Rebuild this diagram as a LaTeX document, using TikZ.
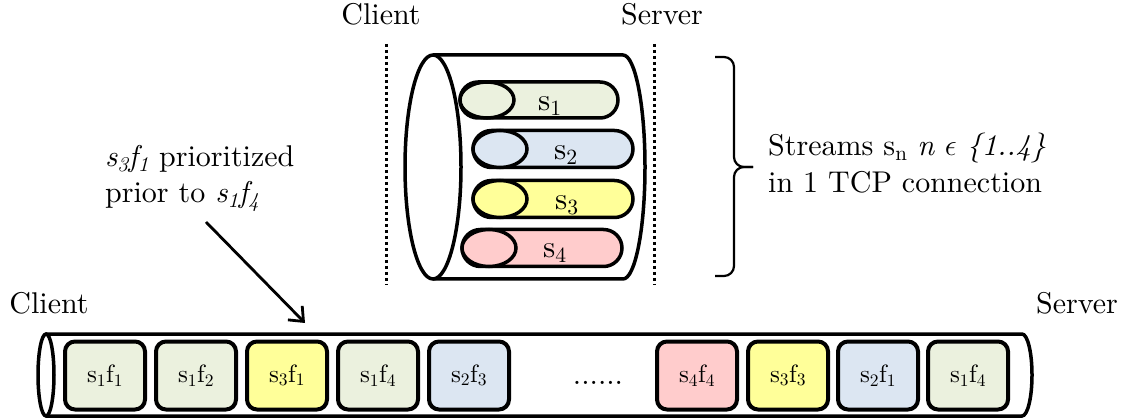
\RequirePackage{fix-cm}
\documentclass[tikz,border=0pt]{standalone}
\usepackage{fontspec}
\setmainfont{lmroman10-regular.otf}[ItalicFont=lmroman10-italic.otf, BoldFont=lmroman10-bold.otf, BoldItalicFont=lmroman10-bolditalic.otf]
\usetikzlibrary{shapes.misc,calc,arrows.meta}
\definecolor{cA}{HTML}{EBF1DE}
\definecolor{cB}{HTML}{DCE6F2}
\definecolor{cC}{HTML}{FFFF99}
\definecolor{cD}{HTML}{FFCCCC}
\tikzset{
  big/.style={font=\fontsize{30}{37}\selectfont, inner sep=0pt},
  slab/.style={font=\fontsize{31}{37}\selectfont, inner sep=0pt, anchor=base west},
  pill/.style={draw, rounded rectangle, line width=3.5pt, outer sep=0pt, inner sep=0pt, minimum width=160pt, minimum height=37pt},
  outl/.style={draw, line width=3.5pt},
  frm/.style={draw, line width=4pt, rounded corners=10pt, minimum width=80pt, minimum height=68pt, inner sep=0pt, font=\fontsize{25}{30}\selectfont},
  sep/.style={line width=3pt, dash pattern=on 3pt off 3pt},
}
\begin{document}
\begin{tikzpicture}[x=1pt,y=-1pt]
\useasboundingbox (0,0) rectangle (1126,419);
% top labels
\node[big, anchor=base] (tc) at (381,25) {Client};
\node[big, anchor=base] (ts) at (662,25) {Server};
\coordinate (d1a) at (386,44); \coordinate (d1b) at (386,285);
\coordinate (d2a) at (654,44); \coordinate (d2b) at (654,285);
\draw[sep] (d1a) -- (d1b);
\draw[sep] (d2a) -- (d2b);
% cylinder
\draw[outl, fill=white] (433,55) -- (623,55) arc[start angle=90, end angle=-90, x radius=22pt, y radius=112pt] -- (433,279);
\draw[outl, fill=white] (433,167) ellipse [x radius=28pt, y radius=112pt];
% streams
\node[pill, fill=cA, minimum width=158pt, minimum height=36pt] (p1) at (539,100) {};
\draw[outl, fill=cA] ($(p1.west)+(27,0)$) ellipse [x radius=27pt, y radius=18pt];
\node[pill, fill=cB] (p2) at (553,149) {};
\draw[outl, fill=cB] ($(p2.west)+(27,0)$) ellipse [x radius=27pt, y radius=18.5pt];
\node[pill, fill=cC] (p3) at (553,199) {};
\draw[outl, fill=cC] ($(p3.west)+(27,0)$) ellipse [x radius=27pt, y radius=18.5pt];
\node[pill, fill=cD] (p4) at (542,248) {};
\draw[outl, fill=cD] ($(p4.west)+(27,0)$) ellipse [x radius=27pt, y radius=18.5pt];
\node[slab] (l1) at (538,111) {s\textsubscript{1}};
\node[slab] (l2) at (554,160) {s\textsubscript{2}};
\node[slab] (l3) at (555,210) {s\textsubscript{3}};
\node[slab] (l4) at (543,258) {s\textsubscript{4}};
% brace and text
\coordinate (br1) at (715,57); \coordinate (brm) at (734,167); \coordinate (brt) at (753,167); \coordinate (br2) at (715,276);
\draw[line width=2.2pt, rounded corners=10pt] (br1) -| (brm) -- (brt);
\draw[line width=2.2pt, rounded corners=10pt] (brt) -- (brm) |- (br2);
\node[big, anchor=base west] (st) at (768,156) {Streams s\textsubscript{n} \textit{n} $\epsilon$ \textit{\{1..4\}}};
\node[big, anchor=base west] (st2) at (768,193) {in 1 TCP connection};
% annotation
\node[big, anchor=base west] (an1) at (105,167) {\textit{s\textsubscript{3}f\textsubscript{1}} prioritized};
\node[big, anchor=base west] (an2) at (105,203) {prior to \textit{s\textsubscript{1}f\textsubscript{4}}};
\coordinate (arA) at (206,222);
\coordinate (arB) at (305,323);
\draw[line width=2.8pt, -{Straight Barb[length=12pt,width=20pt]}] (arA) -- (arB);
% bottom labels
\node[big, anchor=base] (bc) at (49,313) {Client};
\node[big, anchor=base] (bs) at (1077,313) {Server};
% bottom tube
\draw[outl, fill=white] (46,334) -- (1022,334) arc[start angle=90, end angle=-90, x radius=10pt, y radius=41pt] -- (46,416);
\draw[outl, fill=white] (46,375) ellipse [x radius=8pt, y radius=41pt];
% frames
\node[frm, fill=cA] (f1) at (105,375.5) {s\textsubscript{1}f\textsubscript{1}};
\node[frm, fill=cA] (f2) at (196,375.5) {s\textsubscript{1}f\textsubscript{2}};
\node[frm, fill=cC] (f3) at (287,375.5) {s\textsubscript{3}f\textsubscript{1}};
\node[frm, fill=cA] (f4) at (378,375.5) {s\textsubscript{1}f\textsubscript{4}};
\node[frm, fill=cB] (f5) at (469,375.5) {s\textsubscript{2}f\textsubscript{3}};
\node[big, anchor=base] (dots) at (598,384) {......};
\node[frm, fill=cD] (f6) at (697,375.5) {s\textsubscript{4}f\textsubscript{4}};
\node[frm, fill=cC] (f7) at (788,375.5) {s\textsubscript{3}f\textsubscript{3}};
\node[frm, fill=cB] (f8) at (878,375.5) {s\textsubscript{2}f\textsubscript{1}};
\node[frm, fill=cA] (f9) at (968,375.5) {s\textsubscript{1}f\textsubscript{4}};
\end{tikzpicture}
\end{document}
